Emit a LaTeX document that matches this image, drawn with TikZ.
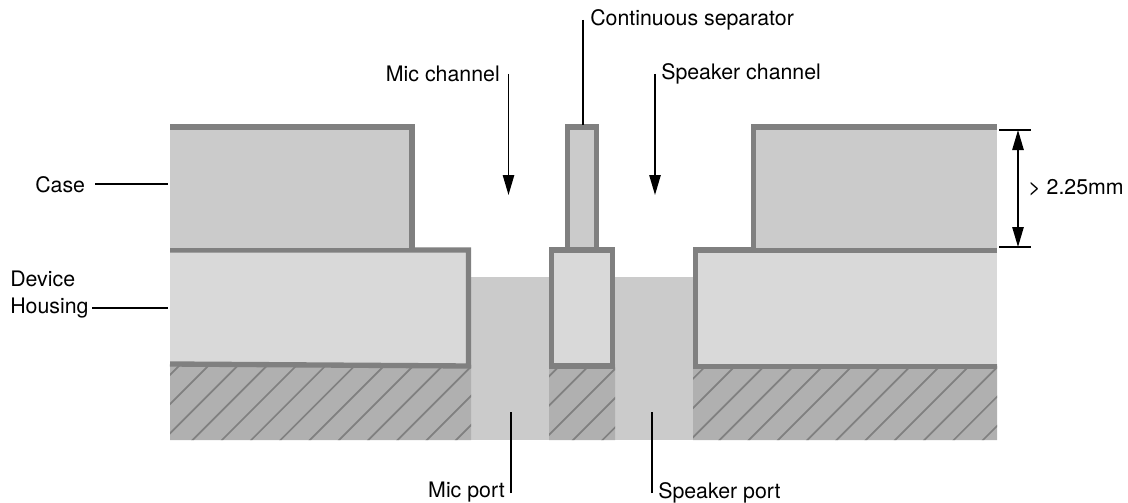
\documentclass[tikz,border=0pt]{standalone}
\usepackage{fontspec}
\setmainfont{TeX Gyre Heros}
\usetikzlibrary{arrows.meta}
\definecolor{wallc}{HTML}{808080}
\definecolor{casec}{HTML}{CBCBCB}
\definecolor{housec}{HTML}{D9D9D9}
\definecolor{hatchc}{HTML}{B0B0B0}
\tikzset{
  px/.style={x=0.75pt,y=-0.75pt},
  wall/.style={draw=wallc,line width=4pt,line join=miter,line cap=butt},
  casefill/.style={fill=casec},
  housefill/.style={fill=housec},
  hatchline/.style={draw=wallc,line width=1.3pt},
  leader/.style={draw=black,line width=1.2pt},
  pointer/.style={draw=black,line width=1.2pt,-{Triangle[length=15pt,width=8.5pt]}},
  span/.style={draw=black,line width=1.2pt,{Triangle[length=15pt,width=8.5pt]}-{Triangle[length=15pt,width=8.5pt]}},
  lbl/.style={inner sep=0pt,font=\fontsize{16pt}{20.25pt}\selectfont,text=black}
}
\begin{document}
\begin{tikzpicture}[px]
\useasboundingbox (0,0) rectangle (1128,503);
% ports
\fill[casec] (471,277) rectangle (550,440);
\fill[casec] (614,277) rectangle (694,440);
% hatched base
\begin{scope}
\clip (170,364) rectangle (471,440) (549,364) rectangle (615,440) (693,364) rectangle (997,440);
\fill[hatchc] (100,300) rectangle (1100,500);
\foreach \k in {-4,...,29} \draw[hatchline] ({632.7+29.27*\k-460},460) -- ({632.7+29.27*\k-340},340);
\end{scope}
% housing left
\fill[housefill] (170,250) -- (468.5,250) -- (468.5,366) -- (170,364) -- cycle;
\draw[wall] (170,250) -- (468.5,250) -- (468.5,366) -- (170,364);
% case left
\fill[casefill] (170,127) -- (412,127) -- (412,248) -- (170,248) -- cycle;
\draw[wall] (170,127) -- (412,127) -- (412,250);
% middle
\fill[casefill] (567.5,127) rectangle (596.5,250);
\draw[wall] (567.5,250) -- (567.5,127) -- (596.5,127) -- (596.5,250);
\draw[wall,housefill] (551.5,250) rectangle (612.5,366);
% housing right
\fill[housefill] (997,250) -- (695.5,250) -- (695.5,366.5) -- (997,366.5) -- cycle;
\draw[wall] (997,250) -- (695.5,250) -- (695.5,366.5) -- (997,366.5);
% case right
\fill[casefill] (997,127) -- (753.5,127) -- (753.5,248) -- (997,248) -- cycle;
\draw[wall] (997,127) -- (753.5,127) -- (753.5,250);
% labels
\node[lbl,anchor=west] (sep) at (590,20) {Continuous separator};
\node[lbl,anchor=east] (mic) at (500,74) {Mic channel};
\node[lbl,anchor=west] (spk) at (661,74) {Speaker channel};
\node[lbl,anchor=west] (cas) at (35,184.5) {Case};
\node[lbl,anchor=west,align=left] (hou) at (10,295) {Device\\Housing};
\node[lbl,anchor=east] (mp) at (505,492.5) {Mic port};
\node[lbl,anchor=west] (sp) at (658,492.5) {Speaker port};
\node[lbl,anchor=west] (dim) at (1028,187.5) {> 2.25mm};
% leader ends
\coordinate (sepa) at (583,20); \coordinate (sepb) at (583,125);
\coordinate (mica) at (508.5,74); \coordinate (micb) at (508.5,195);
\coordinate (spka) at (655,74); \coordinate (spkb) at (655,195);
\coordinate (casa) at (95,184); \coordinate (casb) at (168,184);
\coordinate (houa) at (92,308); \coordinate (houb) at (168,308);
\coordinate (mpa) at (511,493); \coordinate (mpb) at (511,412);
\coordinate (spa) at (652,493); \coordinate (spb) at (652,412);
\coordinate (t1a) at (999,130); \coordinate (t1b) at (1031,130);
\coordinate (t2a) at (999,247); \coordinate (t2b) at (1031,247);
\coordinate (da) at (1018,130); \coordinate (db) at (1018,247);
\draw[leader] (sepa) -- (sepb);
\draw[pointer] (mica) -- (micb);
\draw[pointer] (spka) -- (spkb);
\draw[leader] (casa) -- (casb);
\draw[leader] (houa) -- (houb);
\draw[leader] (mpa) -- (mpb);
\draw[leader] (spa) -- (spb);
\draw[leader] (t1a) -- (t1b);
\draw[leader] (t2a) -- (t2b);
\draw[span] (da) -- (db);
\end{tikzpicture}
\end{document}
